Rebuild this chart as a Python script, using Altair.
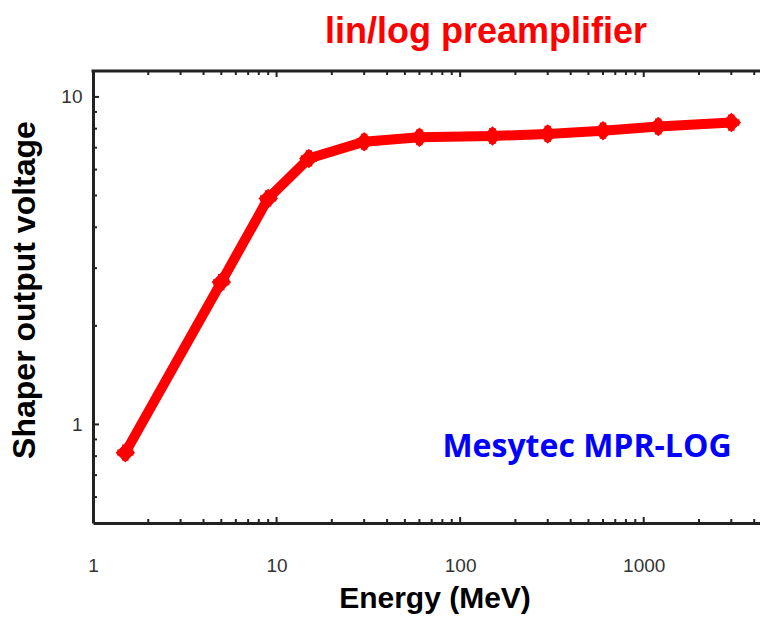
import altair as alt
import pandas as pd

# Data
energy = [1.5, 5, 9, 15, 30, 60, 150, 300, 600, 1200, 3000]
voltage = [0.82, 2.72, 4.90, 6.49, 7.30, 7.53, 7.60, 7.71, 7.89, 8.12, 8.35]

x_major = [1, 10, 100, 1000]
x_minor = [2, 3, 4, 5, 6, 7, 8, 9, 20, 30, 40, 50, 60, 70, 80, 90,
           200, 300, 400, 500, 600, 700, 800, 900, 2000, 3000, 4000]
y_major = [1, 10]
y_minor = [0.6, 0.7, 0.8, 0.9, 2, 3, 4, 5, 6, 7, 8, 9]

title_text = "lin/log preamplifier"
note_text = "Mesytec MPR-LOG"
x_title = "Energy (MeV)"
y_title = "Shaper output voltage"

W, H = 667, 452
AX = "#222222"

xs = alt.Scale(type="log", domain=[1, 4300])
ys = alt.Scale(type="log", domain=[0.5, 12])

x_axis = alt.Axis(values=x_major, format="d", ticks=False, tickSize=0,
                  grid=False, domainColor=AX, domainWidth=3, title=None,
                  labelFlush=False,
                  labelFont="Liberation Sans", labelFontSize=19,
                  labelColor="#333333", labelPadding=33)
y_axis = alt.Axis(values=y_major, format="d", ticks=False, tickSize=0,
                  grid=False, domainColor=AX, domainWidth=3, title=None,
                  labelFlush=False,
                  labelFont="Liberation Sans", labelFontSize=19,
                  labelColor="#333333", labelPadding=11)

df = pd.DataFrame({"energy": energy, "voltage": voltage})

base = alt.Chart(df).encode(
    x=alt.X("energy:Q", scale=xs, axis=x_axis, title=None),
    y=alt.Y("voltage:Q", scale=ys, axis=y_axis, title=None),
)
line = base.mark_line(color="#FF0000", strokeWidth=10)
pts = base.mark_point(shape="diamond", filled=True, color="#FF0000",
                      size=380, opacity=1)
pts2 = base.mark_point(shape="cross", filled=True, color="#FF0000",
                       size=260, opacity=1)

def xticks(vals, length, top=False):
    d = pd.DataFrame({"v": vals})
    if top:
        yy, yy2 = alt.value(0), alt.value(length)
    else:
        yy, yy2 = alt.value(H), alt.value(H - length)
    return alt.Chart(d).mark_rule(color=AX, strokeWidth=2).encode(
        x=alt.X("v:Q", scale=xs, axis=x_axis, title=None), y=yy, y2=yy2)

def yticks(vals, length):
    d = pd.DataFrame({"v": vals})
    return alt.Chart(d).mark_rule(color=AX, strokeWidth=2).encode(
        y=alt.Y("v:Q", scale=ys, axis=y_axis, title=None),
        x=alt.value(0), x2=alt.value(length))

top_border = alt.Chart(pd.DataFrame({"a": [0]})).mark_rule(
    color=AX, strokeWidth=3).encode(
    x=alt.value(-1.5), x2=alt.value(W + 20), y=alt.value(0))

one = pd.DataFrame({"a": [0]})
title = alt.Chart(one).mark_text(
    text=title_text, font="Liberation Sans", fontSize=36, fontWeight="bold",
    color="#FF0000", align="center", baseline="alphabetic").encode(
    x=alt.value(393), y=alt.value(-28))
note = alt.Chart(one).mark_text(
    text=note_text, font="Open Sans", fontSize=32, fontWeight="bold",
    color="#0000FF", align="center", baseline="alphabetic").encode(
    x=alt.value(494), y=alt.value(386))
xt = alt.Chart(one).mark_text(
    text=x_title, font="Liberation Sans", fontSize=30, fontWeight="bold",
    color="#000000", align="center", baseline="alphabetic").encode(
    x=alt.value(342), y=alt.value(537))
yt = alt.Chart(one).mark_text(
    text=y_title, font="Liberation Sans", fontSize=32, fontWeight="bold",
    color="#000000", align="center", baseline="alphabetic", angle=270).encode(
    x=alt.value(-58), y=alt.value(219))

chart = alt.layer(
    line, pts, pts2,
    xticks(x_major, 6), xticks(x_minor, 4),
    xticks(x_major, 6, top=True), xticks(x_minor, 4, top=True),
    yticks(y_major, 6), yticks(y_minor, 4),
    top_border, title, note, xt, yt,
).properties(
    width=W, height=H,
    padding={"left": 93, "top": 71, "right": 0, "bottom": 95},
    autosize=alt.AutoSizeParams(type="none"),
    background="white",
).configure_view(stroke=None)

chart.save("out.html", embed_options={"renderer": "svg", "actions": False})
